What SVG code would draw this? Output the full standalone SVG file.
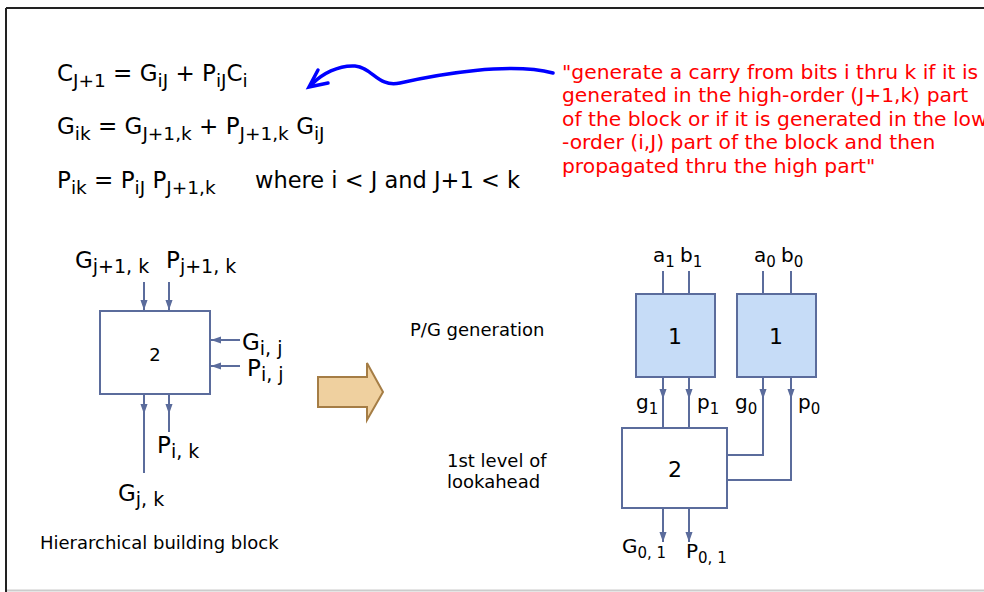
<svg xmlns="http://www.w3.org/2000/svg" width="984" height="592" viewBox="0 0 984 592">
<style>
  text { font-family: "DejaVu Sans", Verdana, sans-serif; fill: #000; }
  .eq { font-size: 23px; }
  .s1 { font-size: 18.5px; }
  .red { font-size: 20.3px; fill: #ff0000; }
  .lbl { font-size: 23px; }
  .s2 { font-size: 19px; }
  .lbr { font-size: 20px; }
  .s3 { font-size: 15px; }
  .cap { font-size: 18px; }
  .num { font-size: 22px; }
  .wire { stroke: #5b6c9c; stroke-width: 2; fill: none; }
  .box { stroke: #5b6c9c; stroke-width: 2; fill: #ffffff; }
  .pg { stroke: #5b6c9c; stroke-width: 2; fill: #c6dcf7; }
</style>
<defs>
  <marker id="ah" markerUnits="userSpaceOnUse" markerWidth="10" markerHeight="14" refX="14" refY="5" viewBox="0 0 14 10" orient="auto">
    <path d="M0,0 L14,5 L0,10 z" fill="#5b6c9c"/>
  </marker>
</defs>
<rect x="0" y="0" width="984" height="592" fill="#ffffff"/>
<g id="frame">
  <line x1="6" y1="8" x2="984" y2="8" stroke="#222" stroke-width="2"/>
  <line x1="6" y1="8" x2="6" y2="592" stroke="#222" stroke-width="2"/>
  <line x1="7" y1="590.5" x2="984" y2="590.5" stroke="#cccccc" stroke-width="2"/>
</g>
<g id="equations">
  <text class="eq" x="57" y="81">C<tspan class="s1" dy="6">J+1</tspan><tspan dy="-6"> = G</tspan><tspan class="s1" dy="6">iJ</tspan><tspan dy="-6"> + P</tspan><tspan class="s1" dy="6">iJ</tspan><tspan dy="-6">C</tspan><tspan class="s1" dy="6">i</tspan></text>
  <text class="eq" x="57" y="134">G<tspan class="s1" dy="6">ik</tspan><tspan dy="-6"> = G</tspan><tspan class="s1" dy="6">J+1,k</tspan><tspan dy="-6"> + P</tspan><tspan class="s1" dy="6">J+1,k</tspan><tspan dy="-6"> G</tspan><tspan class="s1" dy="6">iJ</tspan></text>
  <text class="eq" x="57" y="188">P<tspan class="s1" dy="6">ik</tspan><tspan dy="-6"> = P</tspan><tspan class="s1" dy="6">iJ</tspan><tspan dy="-6"> P</tspan><tspan class="s1" dy="6">J+1,k</tspan></text>
  <text class="eq" x="255" y="188" style="font-size:22.5px">where i &lt; J and J+1 &lt; k</text>
</g>
<g id="note">
  <text class="red" x="562" y="79">"generate a carry from bits i thru k if it is</text>
  <text class="red" x="562" y="102">generated in the high-order (J+1,k) part</text>
  <text class="red" x="562" y="126">of the block or if it is generated in the low</text>
  <text class="red" x="562" y="149">-order (i,J) part of the block and then</text>
  <text class="red" x="562" y="173">propagated thru the high part"</text>
</g>
<g id="note-arrow" fill="none" stroke="#0000ff" stroke-linecap="round">
  <path d="M553,73 C510,62 440,74 400,83 C378,88 372,67 355,66 C338,65 322,74 312,84" stroke-width="3.5"/>
  <path d="M318,70 L309,87 L328,83" stroke-width="3.5" stroke-linejoin="miter"/>
</g>
<g id="block-2">
  <rect class="box" x="100" y="311" width="110" height="83"/>
  <text class="cap" x="155" y="361" text-anchor="middle">2</text>
</g>
<g id="block-labels">
  <text class="lbl" x="75" y="268">G<tspan class="s2" dy="5">j+1, k</tspan></text>
  <text class="lbl" x="166" y="268">P<tspan class="s2" dy="5">j+1, k</tspan></text>
  <text class="lbl" x="242" y="350">G<tspan class="s2" dy="5">i, j</tspan></text>
  <text class="lbl" x="247" y="376">P<tspan class="s2" dy="5">i, j</tspan></text>
  <text class="lbl" x="157" y="453">P<tspan class="s2" dy="5">i, k</tspan></text>
  <text class="lbl" x="118" y="501">G<tspan class="s2" dy="5">j, k</tspan></text>
  <text class="cap" x="40" y="549">Hierarchical building block</text>
</g>
<g id="big-arrow">
  <path d="M318,377 L367,377 L367,363 L383,392 L367,420 L367,407 L318,407 z" fill="#efd09f" stroke="#a57d45" stroke-width="2"/>
</g>
<g id="stage-labels">
  <text class="cap" x="410" y="336">P/G generation</text>
  <text class="cap" x="447" y="467">1st level of</text>
  <text class="cap" x="447" y="488">lookahead</text>
</g>
<g id="pg1">
  <rect class="pg" x="636" y="294" width="79" height="83"/>
  <text class="num" x="675" y="344" text-anchor="middle">1</text>
</g>
<g id="pg0">
  <rect class="pg" x="737" y="294" width="79" height="83"/>
  <text class="num" x="776" y="344" text-anchor="middle">1</text>
</g>
<g id="la2">
  <rect class="box" x="622" y="428" width="105" height="80"/>
  <text class="num" x="675" y="477" text-anchor="middle">2</text>
</g>
<g id="right-labels">
  <text class="lbr" x="653" y="262">a<tspan class="s3" dy="5">1</tspan></text>
  <text class="lbr" x="680" y="262">b<tspan class="s3" dy="5">1</tspan></text>
  <text class="lbr" x="754" y="262">a<tspan class="s3" dy="5">0</tspan></text>
  <text class="lbr" x="781" y="262">b<tspan class="s3" dy="5">0</tspan></text>
  <text class="lbr" x="636" y="409">g<tspan class="s3" dy="5">1</tspan></text>
  <text class="lbr" x="697" y="409">p<tspan class="s3" dy="5">1</tspan></text>
  <text class="lbr" x="735" y="409">g<tspan class="s3" dy="5">0</tspan></text>
  <text class="lbr" x="798" y="409">p<tspan class="s3" dy="5">0</tspan></text>
  <text class="lbr" x="622" y="553">G<tspan class="s3" dy="5">0, 1</tspan></text>
  <text class="lbr" x="686" y="558">P<tspan class="s3" dy="5">0, 1</tspan></text>
</g>
<g id="connectors">
  <line class="wire" x1="144" y1="282" x2="144" y2="310" marker-end="url(#ah)"/>
  <line class="wire" x1="169" y1="282" x2="169" y2="310" marker-end="url(#ah)"/>
  <line class="wire" x1="240" y1="340" x2="211" y2="340" marker-end="url(#ah)"/>
  <line class="wire" x1="240" y1="366" x2="211" y2="366" marker-end="url(#ah)"/>
  <line class="wire" x1="144" y1="394" x2="144" y2="414" marker-end="url(#ah)"/>
  <line class="wire" x1="144" y1="412" x2="144" y2="473"/>
  <line class="wire" x1="169" y1="394" x2="169" y2="414" marker-end="url(#ah)"/>
  <line class="wire" x1="169" y1="412" x2="169" y2="432"/>
  <line class="wire" x1="663" y1="271" x2="663" y2="294"/>
  <line class="wire" x1="689" y1="271" x2="689" y2="294"/>
  <line class="wire" x1="763" y1="271" x2="763" y2="294"/>
  <line class="wire" x1="791" y1="271" x2="791" y2="294"/>
  <line class="wire" x1="663" y1="377" x2="663" y2="399" marker-end="url(#ah)"/>
  <line class="wire" x1="663" y1="397" x2="663" y2="428"/>
  <line class="wire" x1="689" y1="377" x2="689" y2="399" marker-end="url(#ah)"/>
  <line class="wire" x1="689" y1="397" x2="689" y2="428"/>
  <line class="wire" x1="763" y1="377" x2="763" y2="399" marker-end="url(#ah)"/>
  <polyline class="wire" points="763,397 763,455 727,455"/>
  <line class="wire" x1="791" y1="377" x2="791" y2="399" marker-end="url(#ah)"/>
  <polyline class="wire" points="791,397 791,480 727,480"/>
  <line class="wire" x1="663" y1="508" x2="663" y2="542" marker-end="url(#ah)"/>
  <line class="wire" x1="689" y1="508" x2="689" y2="542" marker-end="url(#ah)"/>
</g>
</svg>
